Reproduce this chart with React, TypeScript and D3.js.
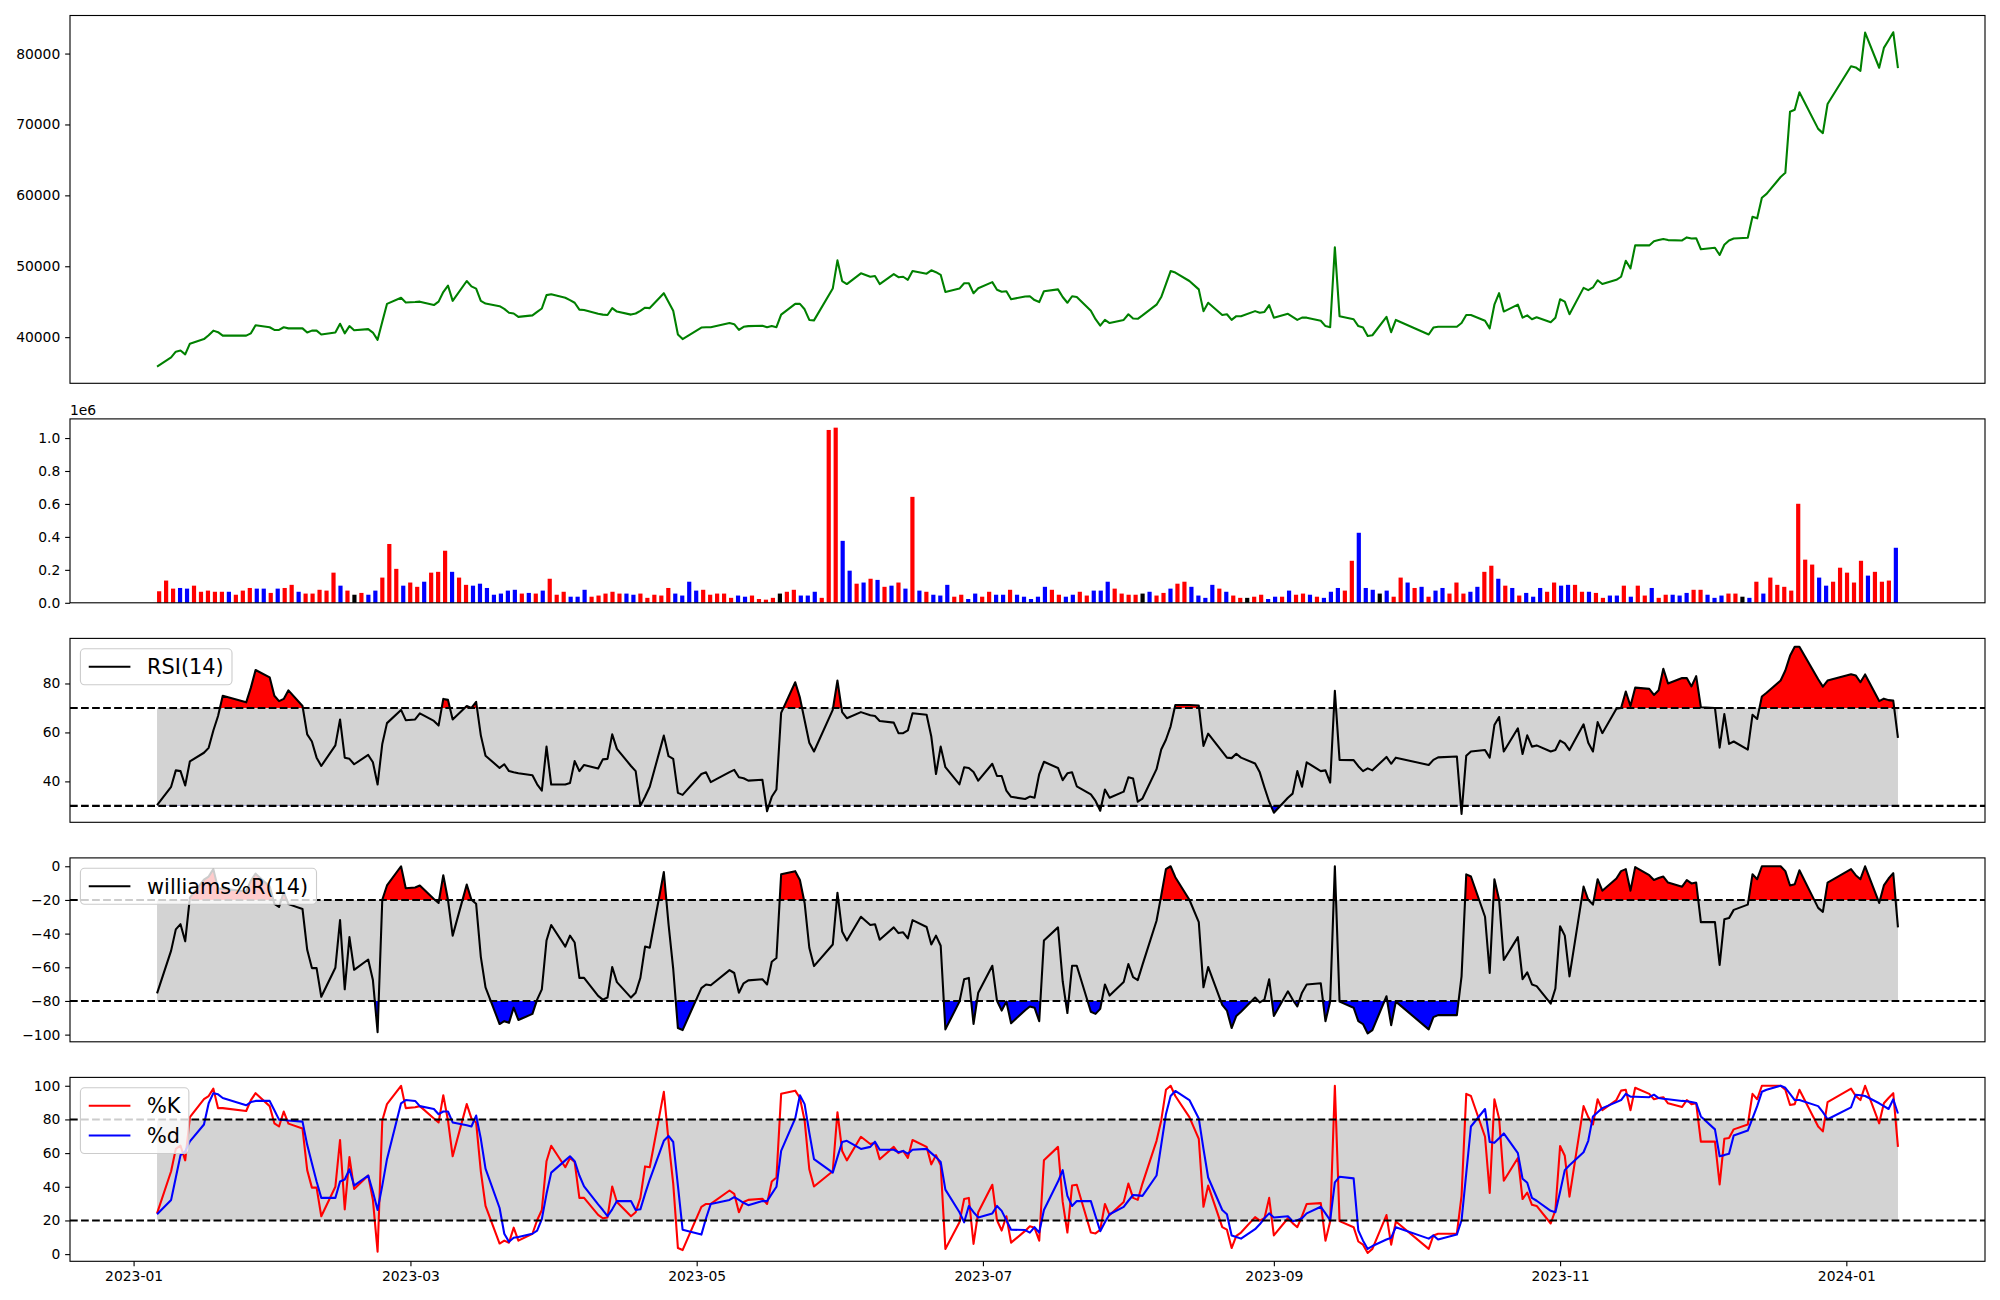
import React, { useEffect, useRef } from "react";
import * as d3 from "d3";

// KRX market holidays that fall on weekdays inside the plotted range
const holidays = [
  "2023-01-23", "2023-01-24", "2023-03-01", "2023-05-01", "2023-05-05",
  "2023-05-29", "2023-06-06", "2023-08-15", "2023-09-28", "2023-09-29",
  "2023-10-02", "2023-10-03", "2023-10-09", "2023-12-25", "2023-12-29",
  "2024-01-01",
];
const firstDay = "2023-01-06";
const lastDay = "2024-01-12";

const close = [
  35850, 37140, 37950, 38110, 37570, 39080, 39730, 40270, 40920, 40700,
  40220, 40220, 40540, 41670, 41400, 41020, 41020, 41400, 41240, 41240,
  40650, 40920, 40920, 40380, 40650, 41890, 40540, 41560, 40970, 41130,
  40650, 39620, 42160, 44690, 45550, 44900, 44960, 45010, 44530, 45010,
  46360, 47280, 45120, 47920, 47170, 46850, 45120, 44740, 44370, 43990,
  43450, 43340, 42860, 43070, 43560, 44040, 45930, 46040, 45550, 45230,
  44850, 43880, 43830, 43290, 43180, 43130, 44100, 43610, 43180, 43340,
  43720, 44150, 44100, 46200, 44960, 43720, 40380, 39730, 41350, 41400,
  41400, 41990, 41830, 41020, 41460, 41560, 41620, 41400, 41560, 41400,
  43180, 44690, 44690, 43930, 42430, 42370, 46850, 50830, 47920, 47490,
  49000, 48520, 48620, 47490, 48890, 48460, 48520, 48090, 49330, 48950,
  49430, 49160, 48790, 46360, 46850, 47600, 47600, 46200, 46900, 47760,
  46680, 46410, 46470, 45340, 45740, 45770, 45230, 44950, 46470, 46740,
  45660, 44850, 45770, 45660, 43720, 42530, 41620, 42430, 41990, 42430,
  43230, 42640, 42590, 43070, 44580, 45660, 47490, 49320, 49110, 47920,
  46740, 43670, 44850, 43130, 43230, 42430, 42960, 42960, 43670, 43450,
  43560, 44530, 42750, 43290, 42860, 42430, 42750, 42750, 42320, 41560,
  41400, 52670, 42960, 42530, 41560, 41350, 40160, 40270, 42860, 40700,
  42430, 40380, 41350, 41460, 41460, 41990, 43130, 43130, 42320, 41240,
  44580, 46200, 43610, 44580, 42750, 43070, 42530, 42800, 42100, 42750,
  45340, 45010, 43230, 46950, 46630, 47010, 48030, 47490, 48090, 48520,
  50780, 49700, 52940, 52940, 53530, 53690, 53850, 53690, 53640, 54070,
  53910, 53960, 52400, 52610, 51590, 53040, 53640, 53910, 54010, 56980,
  56760, 59670, 60210, 62590, 63180, 71800, 72070, 74550, 69380, 68780,
  72880, 78220, 78050, 77570, 82960, 78000, 80800, 81880, 83010, 77950,
];

// volume in thousands of shares
const volumeK = [
  70, 135, 86, 90, 86, 104, 67, 74, 67, 67,
  67, 49, 74, 90, 86, 86, 60, 86, 90, 109,
  67, 56, 56, 79, 74, 183, 104, 74, 49, 60,
  49, 74, 153, 357, 206, 104, 123, 97, 128, 183,
  188, 316, 188, 153, 109, 104, 116, 90, 49, 56,
  74, 79, 56, 60, 56, 74, 146, 49, 67, 37,
  37, 79, 37, 44, 56, 67, 56, 56, 49, 56,
  30, 49, 44, 90, 56, 44, 128, 74, 79, 49,
  56, 56, 30, 44, 37, 44, 23, 19, 30, 56,
  67, 79, 44, 44, 67, 30, 1049, 1063, 376, 195,
  116, 123, 146, 139, 97, 104, 123, 86, 643, 74,
  67, 49, 44, 109, 37, 49, 23, 56, 37, 67,
  49, 49, 79, 49, 37, 23, 37, 97, 79, 49,
  37, 49, 67, 44, 74, 74, 128, 86, 56, 49,
  49, 56, 67, 44, 60, 86, 116, 128, 97, 44,
  30, 109, 86, 67, 44, 30, 30, 37, 49, 23,
  37, 37, 74, 49, 56, 49, 37, 30, 67, 90,
  74, 255, 425, 90, 79, 56, 74, 37, 153, 123,
  90, 97, 37, 74, 90, 56, 123, 56, 67, 97,
  188, 225, 146, 104, 90, 44, 60, 37, 90, 67,
  123, 104, 109, 109, 67, 67, 60, 30, 44, 44,
  104, 37, 104, 44, 90, 30, 49, 49, 44, 60,
  79, 79, 49, 30, 44, 56, 56, 37, 30, 128,
  56, 153, 109, 97, 74, 601, 262, 232, 153, 104,
  128, 213, 183, 123, 255, 165, 188, 128, 135, 334,
];

// r = up day, b = down day, k = unchanged
const volumeColor =
  "rrrbbrrrrr" + "brrrbbrbrr" + "brrrrrbrkr" + "bbrrrbrrbr" + "rrbrrbbbbb" +
  "bbrbrbrrrb" + "bbrrrrrbbr" + "rrrrbbbbrr" + "rrrbbrrrrk" + "rrbbbrrrbb" +
  "rbrbrbrbrb" + "rbbbrrbbrr" + "bbrbbbbbrr" + "bbrrbbbrrr" + "rkbrrbrrbb" +
  "bbrbrrkrrb" + "brbrrbrbbb" + "rrbbbkbrrb" + "rbrbbrrrbb" + "rrbrbrbbbr" +
  "rbbrrbrrbb" + "rbrrbrrbbb" + "rrbbbrrkbr" + "brrrrrrrbb" + "rrrrrbrrrb";

const rsi = [
  30.3, 37.8, 44.5, 44.2, 38.3, 48.2, 51.7, 53.7, 60.8, 66.7,
  75.0, 72.3, 78.3, 85.5, 82.5, 75.0, 72.8, 73.7, 77.2, 70.8,
  59.2, 56.3, 49.7, 46.3, 54.7, 65.3, 49.7, 49.2, 47.0, 50.8,
  47.8, 38.7, 55.3, 63.8, 69.2, 65.0, 65.3, 67.8, 64.7, 62.8,
  73.7, 73.3, 65.3, 70.8, 70.0, 72.5, 58.8, 50.5, 45.5, 47.0,
  44.2, 43.7, 43.3, 42.5, 38.8, 36.2, 54.2, 38.7, 38.7, 39.3,
  48.3, 44.2, 46.7, 45.3, 49.0, 49.2, 59.2, 53.3, 46.3, 44.2,
  30.0, 33.7, 37.8, 58.7, 50.3, 49.2, 35.3, 34.5, 43.0, 43.7,
  39.7, 43.8, 44.7, 41.7, 41.3, 40.3, 40.7, 27.8, 33.7, 36.7,
  68.0, 80.5, 74.2, 65.0, 55.8, 52.2, 69.2, 81.2, 68.3, 65.8,
  68.3, 67.0, 66.7, 64.7, 64.0, 59.7, 59.7, 60.8, 67.8, 67.2,
  58.3, 43.0, 54.2, 45.8, 38.8, 45.8, 45.5, 43.8, 40.3, 47.2,
  42.2, 42.2, 36.2, 33.7, 32.8, 33.8, 33.3, 43.0, 48.0, 45.5,
  40.5, 43.3, 43.7, 38.0, 34.7, 32.0, 28.0, 36.7, 33.3, 35.8,
  41.7, 41.2, 31.7, 33.0, 45.0, 53.0, 57.0, 62.5, 71.2, 71.2,
  71.0, 54.5, 59.5, 52.2, 49.7, 49.5, 51.3, 49.7, 47.3, 43.7,
  37.5, 31.7, 27.2, 33.3, 35.0, 44.2, 37.8, 47.8, 44.2, 44.5,
  39.5, 77.0, 48.8, 48.7, 46.2, 44.2, 45.3, 44.5, 50.0, 47.2,
  49.7, 46.7, 48.8, 49.8, 50.2, 26.7, 50.5, 52.2, 52.8, 49.7,
  63.0, 66.3, 52.2, 61.7, 51.2, 58.8, 54.2, 54.7, 52.2, 52.8,
  56.7, 55.5, 52.8, 63.3, 55.8, 52.2, 64.2, 59.7, 69.7, 70.0,
  76.7, 70.8, 78.3, 77.8, 75.3, 77.2, 86.0, 80.0, 82.2, 82.2,
  78.8, 83.0, 70.3, 70.0, 53.8, 67.5, 55.3, 56.3, 53.0, 67.2,
  65.5, 74.7, 76.2, 81.2, 85.3, 91.3, 95.0, 95.0, 81.7, 78.7,
  81.2, 83.8, 83.3, 80.5, 83.7, 72.8, 73.8, 73.2, 73.0, 57.8,
];

const williamsR = [
  -75.5, -50.1, -37.5, -34.4, -44.6, -18.6, -8.0, -6.1, -1.7, -13.3,
  -13.3, -15.0, -8.5, -4.4, -12.1, -22.3, -24.2, -15.3, -22.5, -25.4,
  -49.6, -60.5, -60.5, -77.5, -60.3, -32.0, -73.1, -42.1, -61.5, -55.4,
  -67.6, -98.5, -19.9, -11.4, 0, -13.1, -12.6, -11.4, -19.4, -21.8,
  -5.3, -19.9, -41.2, -10.9, -19.9, -22.3, -53.8, -71.9, -93.7, -92.0,
  -93.0, -84.0, -91.3, -87.7, -79.2, -73.1, -44.1, -34.9, -47.7, -41.2,
  -45.3, -66.3, -66.3, -77.0, -79.2, -78.0, -59.8, -68.8, -78.0, -75.1,
  -66.3, -47.7, -48.4, -3.4, -34.4, -61.0, -96.1, -97.3, -72.4, -70.2,
  -70.7, -61.7, -63.4, -75.1, -69.5, -67.8, -67.1, -70.2, -56.7, -54.5,
  -4.8, -2.9, -8.2, -21.8, -48.4, -59.3, -46.5, -15.7, -38.7, -44.1,
  -30.0, -34.9, -34.4, -43.6, -36.3, -39.7, -39.2, -42.9, -32.0, -36.1,
  -46.5, -41.2, -47.2, -96.9, -80.4, -67.1, -66.3, -93.7, -75.1, -59.1,
  -79.9, -85.7, -80.4, -93.2, -85.5, -83.3, -84.0, -92.0, -44.1, -36.3,
  -68.3, -87.2, -59.1, -59.1, -86.4, -87.7, -84.7, -70.2, -76.8, -68.8,
  -58.1, -65.9, -67.6, -58.6, -32.4, -17.4, -1.7, 0, -6.5, -19.9,
  -33.2, -71.9, -59.8, -82.3, -85.7, -96.1, -88.9, -86.4, -78.0, -80.9,
  -79.2, -67.1, -88.9, -74.3, -79.2, -83.3, -75.1, -70.2, -69.5, -92.0,
  -80.4, 0, -80.4, -84.0, -92.0, -93.7, -99.3, -97.3, -77.2, -94.4,
  -80.4, -96.9, -89.6, -88.4, -88.4, -65.4, -4.8, -6.1, -30.0, -63.4,
  -7.7, -19.9, -55.7, -42.1, -67.1, -63.0, -70.2, -71.2, -81.6, -72.6,
  -35.6, -41.2, -65.4, -12.1, -19.9, -22.8, -7.7, -14.5, -7.3, -2.9,
  -1.7, -14.5, -0.5, -5.3, -8.2, -7.0, -6.1, -9.7, -12.1, -8.2,
  -10.2, -9.7, -33.2, -33.2, -58.6, -31.5, -30.8, -25.9, -22.8, -4.8,
  -7.7, 0, 0, 0, -2.9, -11.4, -10.7, -2.4, -24.7, -27.1,
  -9.7, -1.7, -5.3, -7.7, 0, -21.8, -11.4, -7.3, -4.1, -36.3,
];

const stochK = [
  24.2, 49.2, 62.5, 64.4, 55.7, 81.4, 92.0, 93.9, 98.3, 86.7,
  86.7, 85.0, 91.5, 95.6, 87.9, 77.7, 75.8, 84.7, 77.5, 74.6,
  49.9, 39.5, 39.5, 22.5, 40.0, 67.8, 26.6, 57.6, 38.7, 46.7,
  32.2, 1.5, 79.4, 89.1, 100, 86.7, 87.2, 87.9, 80.6, 78.2,
  94.4, 79.4, 58.1, 89.1, 80.6, 78.2, 49.2, 28.6, 6.3, 8.0,
  6.8, 15.7, 8.0, 12.1, 20.1, 26.2, 55.2, 64.4, 51.6, 57.1,
  54.7, 33.4, 33.4, 23.3, 21.3, 21.8, 40.2, 31.0, 22.5, 24.9,
  33.4, 52.1, 51.6, 96.4, 67.3, 41.9, 3.6, 2.4, 28.1, 29.8,
  29.8, 37.8, 35.8, 24.9, 31.0, 32.2, 32.9, 29.8, 43.1, 45.5,
  95.2, 97.1, 92.7, 79.4, 50.4, 40.2, 49.2, 84.3, 61.3, 55.7,
  69.7, 65.4, 66.1, 56.4, 63.7, 60.0, 61.3, 57.1, 67.8, 63.7,
  53.3, 58.8, 52.8, 3.1, 18.9, 32.7, 33.4, 6.1, 24.9, 41.2,
  20.1, 14.0, 22.5, 6.8, 13.8, 16.5, 15.6, 8.0, 55.7, 63.7,
  31.0, 12.8, 40.7, 41.2, 12.8, 12.3, 14.5, 29.8, 23.2, 31.0,
  41.9, 33.4, 32.2, 41.9, 67.3, 79.4, 97.6, 100, 93.9, 81.4,
  68.5, 28.1, 40.7, 16.0, 14.5, 3.6, 10.9, 12.8, 22.0, 19.9,
  21.3, 33.4, 11.1, 21.3, 18.4, 16.0, 22.5, 29.8, 30.3, 8.0,
  19.4, 100, 19.6, 16.0, 7.5, 5.6, 0.7, 3.1, 23.2, 5.6,
  19.4, 3.1, 11.1, 12.1, 12.1, 34.6, 95.2, 93.9, 69.7, 36.3,
  92.0, 80.6, 43.6, 57.1, 32.7, 36.6, 29.3, 28.6, 18.2, 26.2,
  64.2, 58.4, 34.1, 87.9, 81.4, 77.0, 92.0, 85.5, 91.5, 97.1,
  97.6, 85.5, 98.8, 95.2, 92.0, 92.7, 93.2, 89.6, 87.4, 91.5,
  89.1, 89.6, 66.8, 66.8, 41.4, 68.5, 69.0, 74.1, 77.0, 95.2,
  92.0, 100, 100, 100, 97.6, 88.6, 89.1, 97.6, 75.8, 72.9,
  90.3, 98.3, 93.9, 91.5, 100, 77.7, 89.6, 92.7, 95.6, 63.7,
];

const stochD = [
  23.7, 32.2, 45.5, 58.8, 61.0, 67.0, 77.0, 89.6, 95.6, 94.9,
  92.7, 88.4, 90.3, 91.0, 91.0, 85.5, 79.9, 79.7, 79.4, 78.7,
  64.9, 54.0, 43.1, 33.4, 33.4, 43.1, 44.3, 50.4, 40.7, 46.7,
  37.0, 26.2, 40.7, 56.4, 89.6, 91.5, 91.0, 87.9, 86.2, 83.1,
  84.7, 84.7, 78.2, 76.5, 75.8, 82.3, 68.5, 50.8, 27.4, 12.1,
  7.3, 9.7, 10.2, 12.1, 14.0, 20.8, 35.8, 48.4, 55.7, 58.1,
  55.2, 46.7, 40.2, 29.5, 26.2, 22.5, 26.6, 31.5, 31.5, 26.2,
  26.6, 35.8, 44.3, 67.3, 70.2, 66.6, 40.7, 14.5, 11.6, 21.3,
  29.8, 32.2, 33.9, 32.2, 30.5, 29.1, 31.5, 31.5, 35.8, 40.0,
  61.3, 80.6, 94.4, 89.1, 72.2, 56.4, 48.4, 57.6, 66.6, 67.3,
  62.5, 63.7, 66.8, 62.0, 62.0, 60.5, 61.3, 59.6, 62.0, 62.5,
  60.0, 57.6, 54.7, 38.3, 24.9, 18.9, 28.6, 24.9, 21.8, 24.2,
  28.6, 25.7, 20.1, 14.5, 14.3, 12.8, 16.0, 12.8, 26.2, 43.1,
  49.9, 34.6, 28.6, 31.5, 31.5, 22.5, 13.6, 18.9, 23.7, 28.1,
  31.7, 35.1, 34.9, 34.6, 46.7, 64.9, 83.1, 93.9, 96.9, 91.5,
  80.6, 62.5, 45.5, 26.2, 23.7, 11.1, 10.2, 9.2, 14.8, 17.7,
  21.3, 24.2, 21.8, 22.5, 19.6, 20.1, 21.3, 24.2, 28.1, 24.2,
  20.1, 42.6, 46.0, 45.0, 14.0, 8.0, 3.1, 4.8, 8.7, 9.7,
  16.0, 9.2, 11.1, 8.7, 11.6, 20.1, 48.0, 75.8, 86.2, 66.6,
  66.1, 68.8, 71.7, 60.0, 44.8, 42.4, 33.4, 31.7, 25.7, 24.9,
  37.0, 49.9, 52.8, 60.5, 67.3, 81.8, 84.3, 86.7, 90.3, 91.5,
  95.2, 93.5, 93.5, 93.2, 94.7, 92.7, 92.3, 92.0, 91.0, 90.8,
  90.3, 89.8, 81.8, 74.1, 58.1, 58.8, 59.6, 70.5, 73.4, 80.6,
  87.9, 96.4, 97.6, 100, 98.8, 95.2, 91.5, 91.5, 87.9, 84.3,
  80.1, 87.2, 94.7, 94.4, 93.9, 89.6, 87.9, 86.2, 92.0, 83.5,
];

const priceTicks = [40000, 50000, 60000, 70000, 80000];
const volumeTicks = [0, 0.2, 0.4, 0.6, 0.8, 1.0];
const rsiTicks = [40, 60, 80];
const williamsTicks = [0, -20, -40, -60, -80, -100];
const stochTicks = [0, 20, 40, 60, 80, 100];
const dateTickLabels = ["2023-01", "2023-03", "2023-05", "2023-07", "2023-09", "2023-11", "2024-01"];

const FONT = "DejaVu Sans";
const TICK_FS = 13.89;
const LEG_FS = 20.83;
const LW = 2.08;
const L = 70;
const R = 1985;
const PANELS = [
  { top: 15.5, h: 367.8 },
  { top: 418.9, h: 183.9 },
  { top: 638.4, h: 183.9 },
  { top: 857.9, h: 183.9 },
  { top: 1077.4, h: 183.9 },
];
const barColors: Record<string, string> = { r: "red", b: "blue", k: "black" };

function padded(lo: number, hi: number): [number, number] {
  const m = (hi - lo) * 0.05;
  return [lo - m, hi + m];
}

export default function App() {
  const ref = useRef<SVGSVGElement | null>(null);

  useEffect(() => {
    if (!ref.current) return;
    const svg = d3.select(ref.current);
    svg.selectAll("*").remove();
    const defs = svg.append("defs");

    const parse = d3.timeParse("%Y-%m-%d");
    const fmtDay = d3.timeFormat("%Y-%m-%d");
    const off = new Set(holidays);
    const dates = d3.timeDay
      .range(parse(firstDay)!, d3.timeDay.offset(parse(lastDay)!, 1))
      .filter((d) => d.getDay() % 6 !== 0 && !off.has(fmtDay(d)));
    const t0 = +dates[0];
    const t1 = +dates[dates.length - 1];
    const span = t1 - t0;
    const x = d3
      .scaleTime()
      .domain([new Date(t0 - 0.05 * span), new Date(t1 + 0.05 * span)])
      .range([L, R]);

    const frame = (p: { top: number; h: number }) =>
      svg
        .append("rect")
        .attr("x", L)
        .attr("y", p.top)
        .attr("width", R - L)
        .attr("height", p.h)
        .attr("fill", "none")
        .attr("stroke", "#000")
        .attr("stroke-width", 1.11);

    const yAxis = (y: d3.ScaleLinear<number, number>, ticks: number[], fmt: (v: number) => string) => {
      const ax = svg
        .append("g")
        .attr("transform", `translate(${L},0)`)
        .call(
          d3
            .axisLeft(y)
            .tickValues(ticks)
            .tickFormat((v) => fmt(+v))
            .tickSize(4.86)
            .tickPadding(4.86)
        );
      ax.select(".domain").remove();
      ax.selectAll("line").attr("stroke", "#000").attr("stroke-width", 1.11);
      ax.selectAll("text")
        .attr("font-family", FONT)
        .attr("font-size", TICK_FS)
        .attr("fill", "#000");
    };

    const legend = (p: { top: number; h: number }, entries: { label: string; color: string }[]) => {
      const fs = LEG_FS;
      const bx = L + 0.5 * fs;
      const by = p.top + 0.5 * fs;
      const pad = 0.4 * fs;
      const hl = 2 * fs;
      const htp = 0.8 * fs;
      const rowH = 19.3;
      const sp = 0.5 * fs;
      const lg = svg.append("g");
      const box = lg.append("rect");
      let maxW = 0;
      entries.forEach((e, k) => {
        const cy = by + pad + k * (rowH + sp) + rowH / 2;
        lg.append("line")
          .attr("x1", bx + pad)
          .attr("x2", bx + pad + hl)
          .attr("y1", cy)
          .attr("y2", cy)
          .attr("stroke", e.color)
          .attr("stroke-width", LW);
        const t = lg
          .append("text")
          .attr("x", bx + pad + hl + htp)
          .attr("y", cy + 0.35 * fs)
          .attr("font-family", FONT)
          .attr("font-size", fs)
          .attr("fill", "#000")
          .text(e.label);
        maxW = Math.max(maxW, (t.node() as SVGTextElement).getComputedTextLength());
      });
      box
        .attr("x", bx)
        .attr("y", by)
        .attr("width", 2 * pad + hl + htp + maxW)
        .attr("height", 2 * pad + entries.length * rowH + (entries.length - 1) * sp)
        .attr("rx", 0.2 * fs)
        .attr("fill", "#fff")
        .attr("fill-opacity", 0.8)
        .attr("stroke", "#cccccc")
        .attr("stroke-width", 1.11);
    };

    const seriesLine = (y: d3.ScaleLinear<number, number>) =>
      d3
        .line<number>()
        .x((_, i) => x(dates[i]))
        .y((d) => y(d));

    // price
    const p0 = PANELS[0];
    const yP = d3
      .scaleLinear()
      .domain(padded(d3.min(close)!, d3.max(close)!))
      .range([p0.top + p0.h, p0.top]);
    svg
      .append("path")
      .attr("d", seriesLine(yP)(close))
      .attr("fill", "none")
      .attr("stroke", "green")
      .attr("stroke-width", LW)
      .attr("stroke-linejoin", "round");
    frame(p0);
    yAxis(yP, priceTicks, d3.format("d"));

    // volume (bars placed by position index)
    const p1 = PANELS[1];
    const vol = volumeK.map((v) => v / 1000);
    const bw = 0.6;
    const n = vol.length;
    const ext = n - 1 + bw;
    const xb = d3
      .scaleLinear()
      .domain([-bw / 2 - 0.05 * ext, n - 1 + bw / 2 + 0.05 * ext])
      .range([L, R]);
    const yV = d3
      .scaleLinear()
      .domain([0, d3.max(vol)! * 1.05])
      .range([p1.top + p1.h, p1.top]);
    svg
      .append("g")
      .selectAll("rect")
      .data(vol)
      .join("rect")
      .attr("x", (_, i) => xb(i - bw / 2))
      .attr("width", xb(bw) - xb(0))
      .attr("y", (d) => yV(d))
      .attr("height", (d) => yV(0) - yV(d))
      .attr("fill", (_, i) => barColors[volumeColor[i]]);
    frame(p1);
    yAxis(yV, volumeTicks, d3.format(".1f"));
    svg
      .append("text")
      .attr("x", L)
      .attr("y", p1.top - 4.4)
      .attr("font-family", FONT)
      .attr("font-size", TICK_FS)
      .text("1e6");

    const bandPanel = (
      idx: number,
      series: { values: number[]; color: string; label: string }[],
      lower: number,
      upper: number,
      extremes: boolean,
      ticks: number[]
    ) => {
      const p = PANELS[idx];
      const all = series.flatMap((s) => s.values).concat([lower, upper]);
      const y = d3
        .scaleLinear()
        .domain(padded(d3.min(all)!, d3.max(all)!))
        .range([p.top + p.h, p.top]);
      const xa = x(dates[0]);
      const xz = x(dates[dates.length - 1]);
      svg
        .append("rect")
        .attr("x", xa)
        .attr("width", xz - xa)
        .attr("y", y(upper))
        .attr("height", y(lower) - y(upper))
        .attr("fill", "lightgray");
      if (extremes) {
        const v = series[0].values;
        const upId = `clip-up-${idx}`;
        const dnId = `clip-dn-${idx}`;
        defs.append("clipPath").attr("id", upId).append("rect")
          .attr("x", L).attr("width", R - L).attr("y", p.top).attr("height", y(upper) - p.top);
        defs.append("clipPath").attr("id", dnId).append("rect")
          .attr("x", L).attr("width", R - L).attr("y", y(lower)).attr("height", p.top + p.h - y(lower));
        const area = (base: number) =>
          d3
            .area<number>()
            .x((_, i) => x(dates[i]))
            .y0(y(base))
            .y1((d) => y(d));
        svg.append("path").attr("d", area(upper)(v)).attr("fill", "red").attr("clip-path", `url(#${upId})`);
        svg.append("path").attr("d", area(lower)(v)).attr("fill", "blue").attr("clip-path", `url(#${dnId})`);
      }
      series.forEach((s) => {
        svg
          .append("path")
          .attr("d", seriesLine(y)(s.values))
          .attr("fill", "none")
          .attr("stroke", s.color)
          .attr("stroke-width", LW)
          .attr("stroke-linejoin", "round");
      });
      [upper, lower].forEach((lv) => {
        svg
          .append("line")
          .attr("x1", L)
          .attr("x2", R)
          .attr("y1", y(lv))
          .attr("y2", y(lv))
          .attr("stroke", "#000")
          .attr("stroke-width", LW)
          .attr("stroke-dasharray", "7.71,3.33");
      });
      frame(p);
      yAxis(y, ticks, d3.format("d"));
      legend(p, series.map((s) => ({ label: s.label, color: s.color })));
    };

    bandPanel(2, [{ values: rsi, color: "black", label: "RSI(14)" }], 30, 70, true, rsiTicks);
    bandPanel(3, [{ values: williamsR, color: "black", label: "williams%R(14)" }], -80, -20, true, williamsTicks);
    bandPanel(
      4,
      [
        { values: stochK, color: "red", label: "%K" },
        { values: stochD, color: "blue", label: "%d" },
      ],
      20,
      80,
      false,
      stochTicks
    );

    // date axis on the bottom panel
    const p4 = PANELS[4];
    const monthParse = d3.timeParse("%Y-%m");
    const tickDates = dateTickLabels.map((s) => monthParse(s)!);
    const xa = svg
      .append("g")
      .attr("transform", `translate(0,${p4.top + p4.h})`)
      .call(
        d3
          .axisBottom(x)
          .tickValues(tickDates)
          .tickFormat((_, i) => dateTickLabels[i])
          .tickSize(4.86)
          .tickPadding(4.86)
      );
    xa.select(".domain").remove();
    xa.selectAll("line").attr("stroke", "#000").attr("stroke-width", 1.11);
    xa.selectAll("text").attr("font-family", FONT).attr("font-size", TICK_FS).attr("fill", "#000");
  }, []);

  return (
    <svg
      ref={ref}
      width={2000}
      height={1300}
      style={{ position: "absolute", left: 0, top: 0, background: "#fff" }}
    />
  );
}
